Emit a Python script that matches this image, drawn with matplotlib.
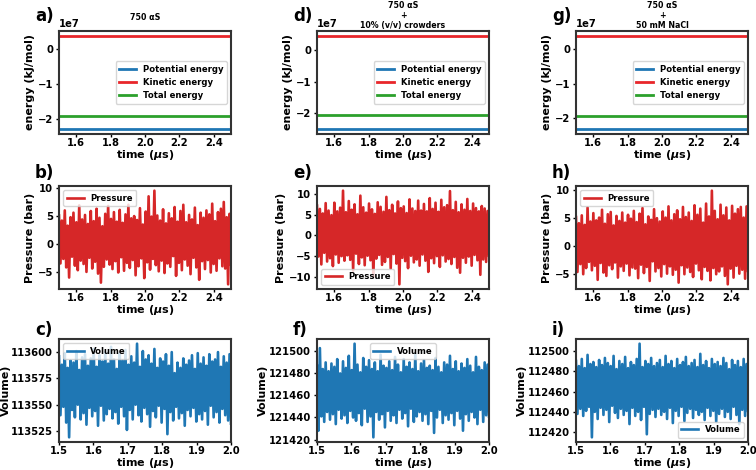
import numpy as np
import matplotlib
matplotlib.use('Agg')
import matplotlib.pyplot as plt
from matplotlib.ticker import MultipleLocator

# ---- data ----
systems = ['750 αS', '750 αS\n+\n10% (v/v) crowders', '750 αS\n+\n50 mM NaCl']
letters = [['a)', 'd)', 'g)'], ['b)', 'e)', 'h)'], ['c)', 'f)', 'i)']]

energy_time = [1.5, 2.5]
potential = [[-2.28e7, -2.28e7], [-2.51e7, -2.51e7], [-2.33e7, -2.33e7]]
kinetic = [[0.38e7, 0.38e7], [0.46e7, 0.46e7], [0.39e7, 0.39e7]]
total = [[-1.90e7, -1.90e7], [-2.05e7, -2.05e7], [-1.94e7, -1.94e7]]

pressure_b = """
5.1 -3.4 4.2 -2.6 6.0 -4.1 3.3 -5.9 4.8 -2.2 5.6 -3.8 3.9 -4.6 6.9 -2.9 4.4 -3.5 5.2 -4.9
3.6 -2.4 5.9 -4.3 4.1 -3.1 6.3 -5.2 4.7 -6.8 3.2 -4.0 5.4 -2.7 6.8 -3.6 4.5 -4.4 5.7 -3.0
4.0 -5.0 6.1 -2.3 3.8 -4.7 5.3 -3.3 7.0 -4.2 4.6 -2.8 5.0 -5.5 4.3 -3.9 6.4 -2.5 3.5 -6.0
5.8 -3.2 8.5 -4.5 4.9 -2.6 9.5 -3.7 5.1 -4.8 4.2 -2.9 6.2 -5.1 3.7 -3.4 5.5 -4.0 4.6 -2.1
6.6 -5.6 4.0 -3.3 5.9 -4.6 7.0 -2.7 3.9 -3.8 5.2 -5.3 4.4 -2.4 6.5 -4.1 3.4 -6.3 5.6 -3.0
4.7 -4.4 6.0 -2.8 5.3 -5.0 7.2 -3.5 4.1 -4.7 5.7 -2.5 6.3 -3.9 7.5 -4.3 4.8 -7.1 5.4 -3.6
"""
pressure_e = """
7.2 -5.1 6.4 -7.0 5.3 -4.2 7.8 -6.3 6.0 -5.5 4.9 -7.4 7.9 -4.6 5.8 -6.6 6.7 -5.0 10.8 -6.1
5.6 -4.8 8.3 -5.9 6.2 -8.5 7.5 -4.4 5.1 -6.9 9.6 -5.3 6.8 -7.2 5.5 -4.9 7.7 -6.0 6.3 -10.0
5.2 -5.6 8.0 -4.7 6.9 -7.1 5.7 -6.4 9.3 -5.2 6.1 -8.0 7.4 -4.5 5.3 -6.8 8.2 -11.8 6.6 -5.4
7.0 -6.2 5.4 -7.9 8.7 -4.9 6.5 -6.5 5.9 -5.8 8.4 -7.3 6.0 -4.6 7.6 -6.1 5.8 -8.8 9.0 -5.5
6.4 -6.7 7.9 -5.0 5.7 -7.6 8.6 -4.8 6.8 -6.3 7.3 -5.7 10.7 -6.9 6.1 -5.2 8.1 -7.8 5.6 -9.0
7.5 -5.4 6.2 -6.6 8.8 -5.1 5.9 -7.3 7.7 -4.7 6.6 -6.0 5.8 -9.5 7.1 -5.8 6.5 -6.4 5.9 -4.9
"""
pressure_h = """
5.2 -4.6 4.1 -3.2 5.5 -5.0 3.8 -3.9 6.9 -2.8 4.4 -4.3 5.9 -3.5 4.6 -6.0 5.1 -3.0 6.5 -4.7
4.0 -5.3 5.7 -3.4 6.1 -4.1 3.7 -2.9 5.4 -5.6 4.5 -3.6 6.0 -4.4 4.2 -3.1 5.6 -5.2 4.9 -3.8
6.3 -4.0 4.3 -5.7 5.8 -3.3 6.8 -4.8 3.9 -3.7 5.3 -6.2 4.7 -2.7 6.6 -4.5 5.0 -3.9 4.4 -5.4
6.2 -3.2 5.1 -4.9 7.1 -3.6 4.6 -5.1 5.7 -4.2 6.4 -6.5 4.8 -3.4 7.0 -5.0 5.2 -3.8 6.0 -4.6
4.5 -5.5 7.3 -3.1 5.6 -4.3 6.7 -5.9 4.2 -3.7 7.6 -4.4 5.3 -6.1 9.9 -3.9 6.3 -5.0 4.8 -4.5
7.4 -3.6 5.5 -5.3 6.9 -6.8 4.6 -4.0 7.2 -5.6 5.8 -3.5 6.6 -4.9 7.0 -4.2 5.1 -5.8 7.1 -4.4
"""
volume_c = """
113596 113540 113588 113548 113599 113533 113585 113519 113592 113545 113590 113538 113601 113550 113583 113536 113595 113542 113598 113531
113587 113547 113594 113539 113603 113544 113586 113530 113597 113549 113591 113535 113600 113541 113589 113546 113605 113537 113593 113543
113584 113532 113599 113548 113592 113539 113602 113526 113588 113545 113596 113536 113590 113550 113608 113540 113586 113534 113601 113547
113593 113541 113597 113529 113589 113544 113603 113538 113585 113549 113594 113533 113591 113546 113598 113522 113587 113543 113600 113535
113580 113548 113590 113537 113585 113542 113594 113530 113588 113545 113592 113539 113597 113547 113584 113534 113599 113541 113589 113536
113595 113544 113587 113531 113598 113549 113591 113538 113593 113543 113600 113533 113586 113546 113596 113540 113590 113535 113598 113532
"""
volume_f = """
121487 121428 121503 121441 121484 121436 121490 121445 121482 121438 121489 121443 121486 121434 121493 121447 121480 121439 121491 121442
121485 121435 121496 121446 121483 121440 121507 121437 121488 121444 121481 121433 121494 121448 121486 121436 121492 121441 121484 121422
121490 121445 121482 121438 121497 121443 121487 121431 121485 121446 121491 121437 121483 121442 121495 121435 121488 121447 121481 121439
121493 121444 121486 121432 121490 121448 121484 121436 121498 121441 121482 121445 121489 121437 121492 121443 121485 121434 121487 121446
121483 121426 121494 121440 121486 121447 121481 121435 121490 121442 121488 121438 121496 121444 121484 121433 121491 121446 121482 121439
121489 121428 121485 121443 121493 121437 121487 121445 121481 121440 121495 121434 121486 121447 121483 121436 121490 121442 121488 121441
"""
volume_i = """
112490 112438 112485 112443 112492 112436 112483 112441 112496 112445 112487 112415 112489 112440 112484 112433 112491 112444 112486 112437
112493 112442 112488 112430 112485 112446 112495 112439 112482 112434 112490 112443 112487 112437 112494 112441 112483 112428 112489 112444
112486 112436 112492 112440 112507 112432 112484 112445 112490 112418 112487 112438 112493 112442 112485 112435 112488 112443 112491 112437
112484 112440 112495 112433 112487 112444 112490 112429 112483 112441 112492 112436 112486 112445 112489 112431 112494 112439 112485 112443
112488 112434 112491 112442 112484 112437 112497 112440 112486 112432 112490 112444 112483 112436 112492 112441 112487 112430 112489 112438
112485 112443 112493 112435 112488 112440 112482 112433 112491 112445 112486 112437 112490 112428 112484 112442 112492 112436 112487 112441
"""

pressures = [np.array(s.split(), dtype=float) for s in (pressure_b, pressure_e, pressure_h)]
volumes = [np.array(s.split(), dtype=float) for s in (volume_c, volume_f, volume_i)]
volume_step = [25, 20, 20]
pressure_legend = ['upper left', 'lower left', 'upper left']
volume_legend = ['upper left', 'upper center', 'lower right']
title_pad = [8, 1.8, 1.8]
letter_y = [1.15, 1.13, 1.085]

plt.rcParams['font.weight'] = 'bold'
plt.rcParams['axes.labelweight'] = 'bold'
plt.rcParams['axes.titleweight'] = 'bold'
plt.rcParams['axes.linewidth'] = 1.5
plt.rcParams['axes.edgecolor'] = '#333333'

fig = plt.figure(figsize=(7.56, 4.70), dpi=100)

lefts = [59, 317, 576]
tops = [31, 186, 339]
W, H = 172, 103


def make_ax(row, col):
    l = lefts[col] / 756
    b = (470 - tops[row] - H) / 470
    ax = fig.add_axes([l, b, W / 756, H / 470])
    ax.tick_params(labelsize=7.2, width=1, length=2.2)
    ax.tick_params(axis='x', pad=1)
    ax.tick_params(axis='y', pad=2)
    ax.yaxis.get_offset_text().set_fontsize(7.2)
    ax.text(-0.14, letter_y[row], letters[row][col], transform=ax.transAxes,
            fontsize=12, fontweight='bold', ha='left', va='center')
    return ax


for col in range(3):
    # energies
    ax = make_ax(0, col)
    ax.plot(energy_time, potential[col], color='#1f77b4', lw=2, label='Potential energy')
    ax.plot(energy_time, kinetic[col], color='#e8262a', lw=2, label='Kinetic energy')
    ax.plot(energy_time, total[col], color='#2ca02c', lw=2, label='Total energy')
    ax.set_xlim(1.5, 2.5)
    ax.set_xlabel(r'time ($\mu$s)', fontsize=8, labelpad=0)
    ax.set_ylabel('energy (kJ/mol)', fontsize=8, labelpad=2)
    ax.set_title(systems[col], fontsize=5.7, pad=title_pad[col])
    ax.legend(loc='center right', fontsize=6.1)

    # pressure
    ax = make_ax(1, col)
    p = pressures[col]
    ax.plot(np.linspace(1.5, 2.5, len(p)), p, color='#d62728', lw=1.9, label='Pressure')
    ax.set_xlim(1.5, 2.5)
    ax.set_xlabel(r'time ($\mu$s)', fontsize=8, labelpad=0)
    ax.set_ylabel('Pressure (bar)', fontsize=8, labelpad=2)
    ax.legend(loc=pressure_legend[col], fontsize=6.1)

    # volume
    ax = make_ax(2, col)
    v = volumes[col]
    ax.plot(np.linspace(1.5, 2.0, len(v)), v, color='#1f77b4', lw=1.9, label='Volume')
    ax.set_xlim(1.5, 2.0)
    ax.yaxis.set_major_locator(MultipleLocator(volume_step[col]))
    ax.ticklabel_format(axis='y', useOffset=False)
    ax.set_xlabel(r'time ($\mu$s)', fontsize=8, labelpad=0)
    ax.set_ylabel('Volume)', fontsize=8, labelpad=0.5)
    ax.legend(loc=volume_legend[col], fontsize=6.1)

fig.savefig('out.png', dpi=100)
